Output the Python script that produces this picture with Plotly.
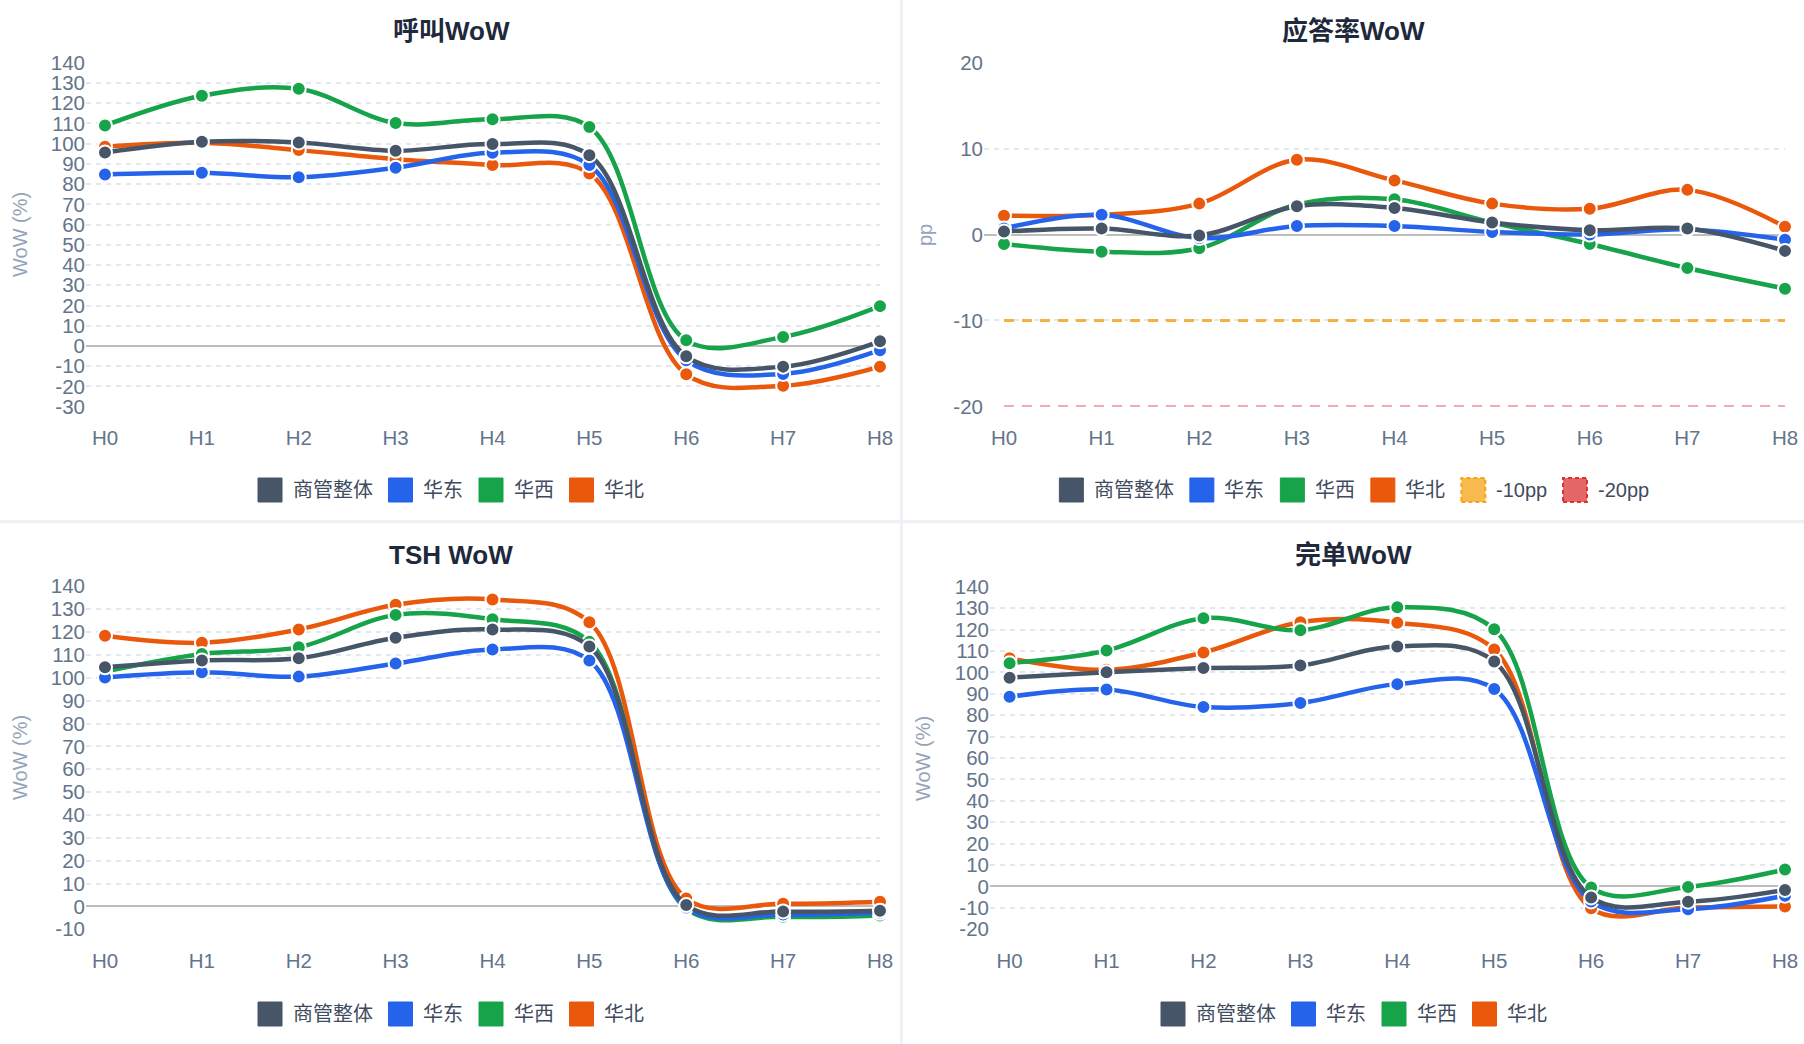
import plotly.graph_objects as go

W, H = 1804, 1044

# ---------------- data ----------------
categories = ["H0", "H1", "H2", "H3", "H4", "H5", "H6", "H7", "H8"]
series_names = ["商管整体", "华东", "华西", "华北"]
series_colors = ["#475569", "#2563eb", "#16a34a", "#ea580c"]

# 呼叫WoW (%)
call_overall = [95.6, 100.9, 100.6, 96.5, 99.8, 94.3, -5.1, -10.2, 2.3]
call_east = [84.8, 85.6, 83.4, 88.1, 95.5, 89.4, -7.0, -13.8, -2.1]
call_west = [109.0, 123.7, 127.1, 110.2, 112.1, 108.2, 2.8, 4.5, 19.7]
call_north = [98.5, 100.4, 96.8, 92.3, 89.4, 85.3, -14.0, -19.6, -10.2]

# 应答率WoW (pp)
ans_overall = [0.35, 0.7, -0.1, 3.3, 3.1, 1.4, 0.5, 0.7, -1.9]
ans_east = [0.7, 2.3, -0.4, 1.0, 1.0, 0.3, 0.0, 0.6, -0.6]
ans_west = [-1.1, -2.0, -1.6, 3.5, 4.1, 1.4, -1.1, -3.9, -6.3]
ans_north = [2.2, 2.3, 3.6, 8.7, 6.3, 3.6, 3.0, 5.2, 0.9]
threshold_names = ["-10pp", "-20pp"]
threshold_10 = [-10, -10, -10, -10, -10, -10, -10, -10, -10]
threshold_20 = [-20, -20, -20, -20, -20, -20, -20, -20, -20]

# TSH WoW (%)
tsh_overall = [104.6, 107.6, 108.5, 117.5, 121.1, 113.7, 0.6, -2.2, -1.9]
tsh_east = [100.1, 102.4, 100.5, 106.2, 112.4, 107.5, -0.5, -3.5, -2.8]
tsh_west = [102.7, 110.4, 113.4, 127.5, 125.6, 115.7, -1.0, -4.5, -4.0]
tsh_north = [118.4, 115.3, 121.1, 131.9, 134.2, 124.3, 3.5, 1.2, 2.0]

# 完单WoW (%)
done_overall = [97.5, 100.0, 102.0, 103.2, 112.1, 105.1, -5.1, -7.1, -1.6]
done_east = [88.6, 92.0, 83.8, 85.7, 94.5, 92.2, -7.0, -10.6, -4.3]
done_west = [104.3, 110.2, 125.3, 119.7, 130.4, 120.1, -0.5, -0.2, 7.9]
done_north = [106.6, 101.2, 109.3, 123.4, 123.2, 110.7, -10.2, -9.8, -9.3]

panel_titles = ["呼叫WoW", "应答率WoW", "TSH WoW", "完单WoW"]
y_titles = ["WoW (%)", "pp", "WoW (%)", "WoW (%)"]

# y tick values / labels per panel (labels use plain hyphen like the original)
yticks_call = [-30, -20, -10, 0, 10, 20, 30, 40, 50, 60, 70, 80, 90, 100, 110, 120, 130, 140]
yticks_ans = [-20, -10, 0, 10, 20]
yticks_tsh = [-10, 0, 10, 20, 30, 40, 50, 60, 70, 80, 90, 100, 110, 120, 130, 140]
yticks_done = [-20, -10, 0, 10, 20, 30, 40, 50, 60, 70, 80, 90, 100, 110, 120, 130, 140]
panel_yticks = [yticks_call, yticks_ans, yticks_tsh, yticks_done]

panels_data = [
    [call_overall, call_east, call_west, call_north],
    [ans_overall, ans_east, ans_west, ans_north],
    [tsh_overall, tsh_east, tsh_west, tsh_north],
    [done_overall, done_east, done_west, done_north],
]

# ---------------- layout geometry (px) ----------------
FONT = "Liberation Sans, Arial, Noto Sans CJK SC, sans-serif"
TICK_COLOR = "#64748b"
GRID_COLOR = "#e3e8ef"

# plot areas: (left, right, top, bottom) in px, and px position of H0
plot_boxes = [
    (86, 880, 62.7, 406.7),
    (984, 1785, 62.7, 406.4),
    (86, 880, 586.3, 929.3),
    (990, 1785, 586.7, 929.3),
]
h0_px = [105, 1004, 105, 1009.6]
panel_rects = [(0, 900, 0, 520), (903, 1804, 0, 520), (0, 900, 523.5, 1044), (903, 1804, 523.5, 1044)]
title_pos = [(451, 31), (1353, 31), (451, 555), (1353, 555)]
ytitle_pos = [(20, 235), (925, 235), (20, 758), (923, 758)]
legend_pos = [(450, 490), (1353, 490), (450, 1014), (1353, 1014)]


def px_x(v):
    return v / W


def px_y(v):
    return 1 - v / H


fig = go.Figure()
shapes = []
annotations = []

for i in range(4):
    x0, x1, y0, y1 = panel_rects[i]
    shapes.append(dict(type="rect", xref="paper", yref="paper",
                       x0=px_x(x0), x1=px_x(x1), y0=px_y(y1), y1=px_y(y0),
                       fillcolor="white", line=dict(width=0), layer="below"))

for i in range(4):
    sfx = "" if i == 0 else str(i + 1)
    xa, ya = "x" + sfx, "y" + sfx
    left, right, top, bottom = plot_boxes[i]
    unit = (right - h0_px[i]) / 8.0
    xr0 = -(h0_px[i] - left) / unit

    if i == 1:
        thr = [(threshold_20, threshold_names[1], "#e25c5c", 2, "10px,8px"),
               (threshold_10, threshold_names[0], "#f5b041", 3, "10px,8px")]
        for vals, nm, col, lw, dash in thr:
            fig.add_trace(go.Scatter(x=categories, y=vals, name=nm, mode="lines",
                                     line=dict(color=col, width=lw, dash=dash),
                                     xaxis=xa, yaxis=ya, showlegend=False,
                                     cliponaxis=False))

    # Chart.js draws the first dataset on top -> add in reverse order
    for k in reversed(range(4)):
        fig.add_trace(go.Scatter(
            x=categories, y=panels_data[i][k], name=series_names[k],
            mode="lines+markers",
            line=dict(color=series_colors[k], width=4.5, shape="spline", smoothing=1.0),
            marker=dict(color=series_colors[k], size=14, line=dict(color="white", width=2)),
            xaxis=xa, yaxis=ya, showlegend=False, cliponaxis=False))

    yt = panel_yticks[i]
    fig.layout["xaxis" + sfx] = dict(
        domain=[px_x(left), px_x(right)], anchor=ya, type="category",
        range=[xr0, 8], showgrid=False, zeroline=False, showline=False,
        ticks="", ticklabelstandoff=17, automargin=False,
        tickfont=dict(size=20.5, color=TICK_COLOR, family=FONT), fixedrange=True)
    fig.layout["yaxis" + sfx] = dict(
        domain=[px_y(bottom), px_y(top)], anchor=xa, range=[yt[0], yt[-1]],
        tickmode="array", tickvals=yt, ticktext=[str(v) for v in yt],
        showgrid=True, gridcolor=GRID_COLOR, gridwidth=2,
        griddash="5px,5px", zeroline=True, zerolinecolor="#bdbdbd", zerolinewidth=2,
        showline=False, ticks="", ticklabelstandoff=0, automargin=False,
        tickfont=dict(size=20.5, color=TICK_COLOR, family=FONT), fixedrange=True)

    tx, ty = title_pos[i]
    annotations.append(dict(text="<b>%s</b>" % panel_titles[i], xref="paper", yref="paper",
                            x=px_x(tx), y=px_y(ty), xanchor="center", yanchor="middle",
                            showarrow=False, font=dict(size=26, color="#1e293b", family=FONT)))
    ax_, ay_ = ytitle_pos[i]
    annotations.append(dict(text=y_titles[i], xref="paper", yref="paper",
                            x=px_x(ax_), y=px_y(ay_), xanchor="center", yanchor="middle",
                            textangle=-90, showarrow=False,
                            font=dict(size=20, color="#94a3b8", family=FONT)))


# ---------------- legends (Chart.js style boxes) ----------------
def text_width(s, size):
    w = 0.0
    for ch in s:
        if ord(ch) > 0x2E80:
            w += 1.0
        elif ch == "-":
            w += 0.333
        elif ch == " ":
            w += 0.278
        else:
            w += 0.556
    return w * size


LEG_SIZE = 20
BOX = 24
GAP_TEXT = 8.5
GAP_ITEM = 18

for i in range(4):
    items = [(series_names[k], series_colors[k], series_colors[k], "solid") for k in range(4)]
    if i == 1:
        items.append((threshold_names[0], "rgba(245,158,11,0.72)", "rgba(245,158,11,0.9)", "4px,3px"))
        items.append((threshold_names[1], "rgba(220,38,38,0.70)", "rgba(220,38,38,0.9)", "4px,3px"))
    widths = [BOX + GAP_TEXT + text_width(nm, LEG_SIZE) for nm, _, _, _ in items]
    total = sum(widths) + GAP_ITEM * (len(items) - 1)
    cx, cy = legend_pos[i]
    x = cx - total / 2.0
    for (nm, fill, border, dash), w in zip(items, widths):
        shapes.append(dict(type="rect", xref="paper", yref="paper",
                           x0=px_x(x), x1=px_x(x + BOX),
                           y0=px_y(cy + BOX / 2.0), y1=px_y(cy - BOX / 2.0),
                           fillcolor=fill,
                           line=dict(color=border, width=2 if dash != "solid" else 1, dash=dash)))
        annotations.append(dict(text=nm, xref="paper", yref="paper",
                                x=px_x(x + BOX + GAP_TEXT), y=px_y(cy),
                                xanchor="left", yanchor="middle", showarrow=False,
                                font=dict(size=LEG_SIZE, color="#3f4b5e", family=FONT)))
        x += w + GAP_ITEM

fig.update_layout(
    width=W, height=H, autosize=False,
    margin=dict(l=0, r=0, t=0, b=0, pad=0, autoexpand=False),
    paper_bgcolor="#eef2f6", plot_bgcolor="white",
    font=dict(family=FONT, color=TICK_COLOR),
    showlegend=False,
    shapes=shapes, annotations=annotations,
)

fig.write_html(
    "out.html",
    config={"displayModeBar": False},
    post_script="document.body.style.margin='0';document.body.style.padding='0';"
                "document.body.style.overflow='hidden';",
)
